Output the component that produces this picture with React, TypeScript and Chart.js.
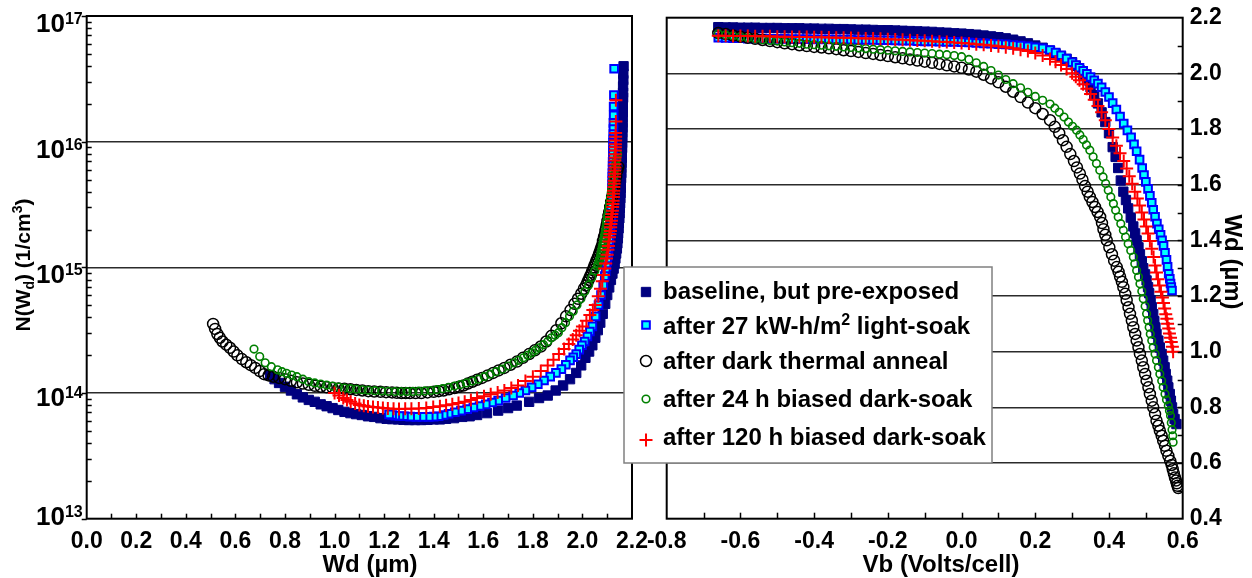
import React, { useEffect, useRef } from 'react';
import { Chart, registerables } from 'chart.js';
import { drawPoint } from 'chart.js/helpers';

Chart.register(...registerables);

const FONT = '"Liberation Sans", Arial, Helvetica, sans-serif';

// ---------- data (Vb in Volts/cell, Wd in µm, log10 of N(Wd) in 1/cm³) ----------
const seriesLabels = [
  'baseline, but pre-exposed',
  'after 27 kW-h/m² light-soak',
  'after dark thermal anneal',
  'after 24 h biased dark-soak',
  'after 120 h biased dark-soak',
];

// reverse-bias part of the voltage sweep, common to all five measurements
const reverseSweepVb = [-0.66, -0.64, -0.62, -0.6, -0.58, -0.56, -0.54, -0.52, -0.5, -0.48, -0.46, -0.44, -0.42, -0.4, -0.38, -0.36, -0.34, -0.32, -0.3, -0.28, -0.26, -0.24, -0.22, -0.2, -0.18, -0.16, -0.14, -0.12, -0.1, -0.08, -0.06, -0.04, -0.02, 0, 0.02, 0.04, 0.06, 0.08, 0.1, 0.12, 0.14, 0.16, 0.18, 0.2, 0.22];

const baselineVb = [...reverseSweepVb, 0.24, 0.255, 0.27, 0.285, 0.3, 0.31, 0.32, 0.33, 0.34, 0.35, 0.36, 0.37, 0.38, 0.39, 0.4, 0.41, 0.418, 0.425, 0.432, 0.439, 0.446, 0.452, 0.459, 0.466, 0.471, 0.475, 0.48, 0.484, 0.489, 0.493, 0.498, 0.502, 0.506, 0.509, 0.513, 0.516, 0.52, 0.523, 0.526, 0.529, 0.534, 0.538, 0.543, 0.547, 0.551, 0.554, 0.558, 0.561, 0.565, 0.568, 0.571, 0.574, 0.578, 0.583];
const baselineWd = [2.166, 2.165, 2.165, 2.164, 2.164, 2.164, 2.163, 2.163, 2.163, 2.162, 2.162, 2.162, 2.161, 2.161, 2.16, 2.16, 2.159, 2.159, 2.158, 2.157, 2.157, 2.156, 2.155, 2.155, 2.154, 2.153, 2.152, 2.151, 2.15, 2.149, 2.147, 2.146, 2.144, 2.143, 2.141, 2.139, 2.136, 2.133, 2.13, 2.126, 2.121, 2.115, 2.108, 2.1, 2.092, 2.082, 2.072, 2.062, 2.052, 2.04, 2.027, 2.012, 1.995, 1.975, 1.95, 1.922, 1.892, 1.86, 1.825, 1.785, 1.735, 1.7, 1.66, 1.615, 1.575, 1.545, 1.515, 1.482, 1.45, 1.425, 1.4, 1.375, 1.35, 1.325, 1.3, 1.278, 1.256, 1.232, 1.21, 1.185, 1.16, 1.135, 1.11, 1.087, 1.064, 1.04, 1.015, 0.992, 0.968, 0.944, 0.92, 0.896, 0.872, 0.848, 0.824, 0.8, 0.776, 0.758, 0.74];
const baselineLogN = [16.6, 16.54, 16.49, 16.44, 16.39, 16.35, 16.31, 16.27, 16.23, 16.19, 16.15, 16.11, 16.07, 16.03, 15.99, 15.95, 15.91, 15.87, 15.83, 15.79, 15.75, 15.71, 15.67, 15.63, 15.59, 15.55, 15.51, 15.47, 15.43, 15.39, 15.35, 15.31, 15.27, 15.23, 15.19, 15.15, 15.11, 15.07, 15.03, 14.99, 14.95, 14.9, 14.84, 14.78, 14.71, 14.63, 14.56, 14.5, 14.44, 14.38, 14.33, 14.28, 14.22, 14.16, 14.11, 14.06, 14.02, 13.98, 13.96, 13.93, 13.9, 13.88, 13.86, 13.84, 13.825, 13.815, 13.81, 13.8, 13.795, 13.79, 13.79, 13.787, 13.785, 13.785, 13.785, 13.787, 13.79, 13.792, 13.795, 13.8, 13.81, 13.815, 13.825, 13.832, 13.84, 13.85, 13.865, 13.88, 13.895, 13.91, 13.93, 13.945, 13.965, 13.99, 14.02, 14.05, 14.08, 14.11, 14.14];

const lightSoakVb = [...reverseSweepVb, 0.24, 0.255, 0.27, 0.285, 0.3, 0.31, 0.32, 0.33, 0.34, 0.35, 0.36, 0.37, 0.38, 0.39, 0.4, 0.41, 0.42, 0.43, 0.44, 0.45, 0.46, 0.468, 0.475, 0.483, 0.49, 0.495, 0.5, 0.506, 0.511, 0.516, 0.52, 0.525, 0.53, 0.535, 0.54, 0.544, 0.548, 0.552, 0.556, 0.559, 0.562, 0.565, 0.567, 0.569, 0.571];
const lightSoakWd = [2.128, 2.127, 2.126, 2.126, 2.125, 2.125, 2.125, 2.124, 2.124, 2.124, 2.123, 2.123, 2.123, 2.122, 2.122, 2.122, 2.121, 2.121, 2.121, 2.12, 2.12, 2.12, 2.119, 2.119, 2.118, 2.117, 2.117, 2.116, 2.115, 2.115, 2.114, 2.113, 2.113, 2.112, 2.111, 2.109, 2.108, 2.107, 2.105, 2.104, 2.102, 2.1, 2.097, 2.094, 2.09, 2.084, 2.075, 2.065, 2.053, 2.04, 2.03, 2.02, 2.009, 1.998, 1.987, 1.975, 1.963, 1.95, 1.933, 1.915, 1.893, 1.87, 1.845, 1.82, 1.795, 1.77, 1.745, 1.72, 1.69, 1.66, 1.635, 1.61, 1.585, 1.56, 1.535, 1.51, 1.485, 1.46, 1.44, 1.42, 1.4, 1.38, 1.355, 1.33, 1.305, 1.28, 1.262, 1.245, 1.232, 1.22];
const lightSoakLogN = [16.58, 16.37, 16.28, 16.21, 16.15, 16.1, 16.06, 16.02, 15.99, 15.96, 15.93, 15.9, 15.87, 15.84, 15.81, 15.78, 15.75, 15.72, 15.69, 15.66, 15.63, 15.6, 15.575, 15.55, 15.525, 15.5, 15.475, 15.45, 15.425, 15.4, 15.375, 15.35, 15.325, 15.3, 15.27, 15.24, 15.21, 15.18, 15.15, 15.12, 15.09, 15.05, 15.01, 14.97, 14.93, 14.86, 14.78, 14.7, 14.61, 14.53, 14.49, 14.45, 14.41, 14.38, 14.345, 14.31, 14.285, 14.26, 14.225, 14.19, 14.16, 14.13, 14.1, 14.07, 14.045, 14.02, 14.0, 13.98, 13.96, 13.94, 13.925, 13.91, 13.897, 13.885, 13.872, 13.86, 13.847, 13.835, 13.825, 13.815, 13.812, 13.81, 13.81, 13.81, 13.812, 13.815, 13.817, 13.82, 13.825, 13.83];

const annealVb = [...reverseSweepVb, 0.24, 0.253, 0.265, 0.275, 0.285, 0.295, 0.305, 0.313, 0.321, 0.328, 0.335, 0.342, 0.348, 0.355, 0.362, 0.369, 0.376, 0.381, 0.385, 0.39, 0.394, 0.401, 0.408, 0.414, 0.421, 0.426, 0.43, 0.435, 0.439, 0.444, 0.448, 0.453, 0.457, 0.462, 0.466, 0.471, 0.475, 0.48, 0.484, 0.489, 0.493, 0.498, 0.502, 0.507, 0.511, 0.516, 0.52, 0.525, 0.529, 0.534, 0.538, 0.543, 0.547, 0.552, 0.556, 0.561, 0.566, 0.57, 0.573, 0.576, 0.579, 0.582, 0.584, 0.586, 0.588];
const annealWd = [2.145, 2.141, 2.136, 2.132, 2.128, 2.124, 2.12, 2.116, 2.112, 2.108, 2.105, 2.101, 2.098, 2.095, 2.093, 2.09, 2.087, 2.083, 2.08, 2.077, 2.073, 2.07, 2.066, 2.062, 2.058, 2.054, 2.05, 2.046, 2.042, 2.038, 2.034, 2.029, 2.025, 2.02, 2.014, 2.006, 1.995, 1.982, 1.968, 1.952, 1.934, 1.915, 1.895, 1.875, 1.854, 1.832, 1.808, 1.785, 1.76, 1.736, 1.71, 1.685, 1.662, 1.64, 1.618, 1.595, 1.575, 1.556, 1.538, 1.52, 1.502, 1.484, 1.462, 1.44, 1.42, 1.4, 1.375, 1.35, 1.327, 1.304, 1.287, 1.27, 1.251, 1.232, 1.208, 1.185, 1.16, 1.136, 1.112, 1.088, 1.064, 1.04, 1.016, 0.992, 0.968, 0.944, 0.92, 0.896, 0.872, 0.848, 0.824, 0.8, 0.776, 0.752, 0.734, 0.716, 0.698, 0.68, 0.662, 0.644, 0.626, 0.608, 0.593, 0.578, 0.563, 0.548, 0.537, 0.527, 0.518, 0.51];
const annealLogN = [15.8, 15.77, 15.72, 15.68, 15.64, 15.6, 15.56, 15.52, 15.48, 15.44, 15.41, 15.37, 15.34, 15.31, 15.29, 15.26, 15.24, 15.21, 15.18, 15.16, 15.14, 15.12, 15.1, 15.08, 15.06, 15.04, 15.02, 15.0, 14.98, 14.96, 14.94, 14.92, 14.9, 14.88, 14.855, 14.83, 14.79, 14.75, 14.71, 14.66, 14.61, 14.555, 14.5, 14.455, 14.41, 14.37, 14.34, 14.31, 14.28, 14.25, 14.225, 14.2, 14.18, 14.16, 14.14, 14.12, 14.105, 14.09, 14.075, 14.06, 14.05, 14.04, 14.03, 14.02, 14.015, 14.01, 14.005, 14.0, 14.0, 14.0, 14.0, 14.0, 14.002, 14.005, 14.007, 14.01, 14.012, 14.015, 14.02, 14.025, 14.03, 14.035, 14.037, 14.04, 14.045, 14.05, 14.057, 14.065, 14.075, 14.085, 14.097, 14.11, 14.12, 14.13, 14.14, 14.15, 14.175, 14.2, 14.222, 14.245, 14.27, 14.3, 14.33, 14.36, 14.385, 14.41, 14.44, 14.47, 14.51, 14.55];

const biased24Vb = [...reverseSweepVb, 0.24, 0.253, 0.265, 0.278, 0.29, 0.301, 0.312, 0.321, 0.33, 0.339, 0.348, 0.357, 0.366, 0.375, 0.384, 0.391, 0.398, 0.405, 0.412, 0.418, 0.425, 0.432, 0.439, 0.445, 0.452, 0.459, 0.466, 0.47, 0.475, 0.48, 0.484, 0.489, 0.493, 0.498, 0.502, 0.505, 0.509, 0.512, 0.516, 0.52, 0.525, 0.529, 0.534, 0.538, 0.543, 0.547, 0.552, 0.556, 0.561, 0.564, 0.567, 0.569, 0.571, 0.573, 0.574];
const biased24Wd = [2.142, 2.138, 2.134, 2.131, 2.128, 2.124, 2.121, 2.118, 2.116, 2.113, 2.11, 2.108, 2.105, 2.103, 2.101, 2.099, 2.097, 2.095, 2.093, 2.091, 2.089, 2.087, 2.085, 2.083, 2.081, 2.079, 2.077, 2.075, 2.073, 2.071, 2.069, 2.067, 2.064, 2.06, 2.05, 2.038, 2.025, 2.01, 1.994, 1.978, 1.963, 1.948, 1.932, 1.917, 1.903, 1.89, 1.875, 1.86, 1.843, 1.825, 1.81, 1.796, 1.779, 1.762, 1.743, 1.724, 1.7, 1.676, 1.652, 1.628, 1.604, 1.58, 1.556, 1.532, 1.508, 1.484, 1.46, 1.436, 1.412, 1.388, 1.364, 1.34, 1.316, 1.292, 1.268, 1.244, 1.217, 1.19, 1.163, 1.136, 1.112, 1.088, 1.064, 1.04, 1.016, 0.992, 0.968, 0.944, 0.92, 0.896, 0.872, 0.848, 0.827, 0.806, 0.788, 0.77, 0.745, 0.72, 0.698, 0.675];
const biased24LogN = [15.9, 15.86, 15.82, 15.78, 15.74, 15.7, 15.66, 15.62, 15.59, 15.55, 15.51, 15.48, 15.45, 15.42, 15.4, 15.37, 15.35, 15.32, 15.29, 15.27, 15.25, 15.23, 15.21, 15.19, 15.17, 15.15, 15.13, 15.11, 15.09, 15.07, 15.06, 15.05, 15.03, 15.01, 14.97, 14.92, 14.86, 14.81, 14.75, 14.7, 14.65, 14.61, 14.56, 14.52, 14.48, 14.46, 14.44, 14.41, 14.385, 14.36, 14.34, 14.32, 14.3, 14.28, 14.26, 14.24, 14.215, 14.19, 14.17, 14.15, 14.13, 14.11, 14.095, 14.08, 14.067, 14.055, 14.045, 14.035, 14.027, 14.02, 14.017, 14.015, 14.013, 14.012, 14.012, 14.012, 14.014, 14.016, 14.019, 14.022, 14.026, 14.03, 14.035, 14.04, 14.047, 14.055, 14.063, 14.072, 14.08, 14.09, 14.11, 14.13, 14.143, 14.157, 14.17, 14.185, 14.21, 14.24, 14.29, 14.35];

const biased120Vb = [...reverseSweepVb, 0.24, 0.255, 0.27, 0.285, 0.3, 0.31, 0.32, 0.33, 0.34, 0.35, 0.36, 0.37, 0.38, 0.39, 0.4, 0.41, 0.42, 0.43, 0.44, 0.448, 0.455, 0.463, 0.47, 0.477, 0.483, 0.489, 0.495, 0.501, 0.506, 0.511, 0.516, 0.521, 0.525, 0.529, 0.533, 0.537, 0.541, 0.545, 0.548, 0.551, 0.554, 0.557, 0.559, 0.562, 0.564, 0.567, 0.569, 0.572, 0.574];
const biased120Wd = [2.135, 2.135, 2.134, 2.134, 2.134, 2.133, 2.133, 2.133, 2.132, 2.132, 2.131, 2.131, 2.131, 2.13, 2.13, 2.129, 2.128, 2.128, 2.127, 2.126, 2.125, 2.125, 2.124, 2.123, 2.122, 2.121, 2.119, 2.118, 2.117, 2.115, 2.114, 2.113, 2.111, 2.109, 2.107, 2.105, 2.103, 2.1, 2.097, 2.094, 2.09, 2.085, 2.08, 2.073, 2.064, 2.052, 2.042, 2.03, 2.016, 2.0, 1.988, 1.975, 1.961, 1.945, 1.926, 1.905, 1.883, 1.86, 1.832, 1.8, 1.77, 1.74, 1.713, 1.685, 1.658, 1.63, 1.603, 1.575, 1.55, 1.525, 1.5, 1.475, 1.45, 1.425, 1.398, 1.37, 1.34, 1.31, 1.285, 1.26, 1.238, 1.215, 1.195, 1.175, 1.155, 1.135, 1.118, 1.1, 1.083, 1.065, 1.05, 1.035, 1.018, 1.0];
const biased120LogN = [16.33, 16.16, 16.07, 16.04, 16.01, 15.98, 15.955, 15.93, 15.9, 15.875, 15.85, 15.82, 15.795, 15.77, 15.745, 15.72, 15.69, 15.665, 15.64, 15.61, 15.585, 15.56, 15.53, 15.505, 15.48, 15.45, 15.425, 15.4, 15.37, 15.345, 15.32, 15.29, 15.265, 15.24, 15.205, 15.17, 15.14, 15.1, 15.07, 15.03, 14.99, 14.94, 14.89, 14.83, 14.77, 14.7, 14.66, 14.62, 14.575, 14.53, 14.495, 14.46, 14.425, 14.39, 14.35, 14.31, 14.265, 14.22, 14.175, 14.13, 14.095, 14.06, 14.04, 14.02, 14.005, 13.99, 13.975, 13.96, 13.945, 13.93, 13.92, 13.91, 13.902, 13.895, 13.888, 13.88, 13.877, 13.875, 13.874, 13.873, 13.875, 13.877, 13.881, 13.885, 13.889, 13.893, 13.899, 13.905, 13.917, 13.93, 13.945, 13.96, 13.98, 14.0];

// axis tick labels
const leftXTicks = [0.0, 0.2, 0.4, 0.6, 0.8, 1.0, 1.2, 1.4, 1.6, 1.8, 2.0, 2.2];
const leftYDecades = [13, 14, 15, 16, 17];
const rightXTicks = [-0.8, -0.6, -0.4, -0.2, 0.0, 0.2, 0.4, 0.6];
const rightYTicks = [0.4, 0.6, 0.8, 1.0, 1.2, 1.4, 1.6, 1.8, 2.0, 2.2];

// ---------- styles ----------
const SERIES = [
  { vb: baselineVb, wd: baselineWd, logN: baselineLogN, pointStyle: 'rect', radius: 6.6, bg: '#00007f', border: '#00007f', bw: 1, order: 5 },
  { vb: lightSoakVb, wd: lightSoakWd, logN: lightSoakLogN, pointStyle: 'rect', radius: 5.4, bg: '#00ffff', border: '#0000ff', bw: 2, order: 4 },
  { vb: annealVb, wd: annealWd, logN: annealLogN, pointStyle: 'circle', radius: 5.5, bg: 'rgba(0,0,0,0)', border: '#000000', bw: 1.5, order: 3 },
  { vb: biased24Vb, wd: biased24Wd, logN: biased24LogN, pointStyle: 'circle', radius: 3.8, bg: 'rgba(0,0,0,0)', border: '#008000', bw: 1.6, order: 2 },
  { vb: biased120Vb, wd: biased120Wd, logN: biased120LogN, pointStyle: 'cross', radius: 6.5, bg: '#ff0000', border: '#ff0000', bw: 2, order: 1 },
];

function makeDatasets(which: 'left' | 'right') {
  return SERIES.map((s, k) => {
    const n = Math.min(s.vb.length, s.wd.length, s.logN.length);
    const data = [] as { x: number; y: number }[];
    for (let i = 0; i < n; i++) {
      data.push(which === 'left' ? { x: s.wd[i], y: Math.pow(10, s.logN[i]) } : { x: s.vb[i], y: s.wd[i] });
    }
    return {
      label: seriesLabels[k],
      data,
      showLine: false,
      pointStyle: s.pointStyle as any,
      pointRadius: s.radius,
      pointHoverRadius: s.radius,
      pointBackgroundColor: s.bg,
      pointBorderColor: s.border,
      pointBorderWidth: s.bw,
      pointHoverBorderWidth: s.bw,
      backgroundColor: s.bg,
      borderColor: s.border,
      order: s.order,
    };
  });
}

type Seg = { t: string; s?: 'sup' | 'sub' };

function segFont(sg: Seg, size: number) {
  return `bold ${sg.s ? Math.round(size * 0.66) : size}px ${FONT}`;
}

function drawSegs(ctx: CanvasRenderingContext2D, segs: Seg[], x: number, y: number, size: number, center: boolean) {
  let w = 0;
  for (const sg of segs) {
    ctx.font = segFont(sg, size);
    w += ctx.measureText(sg.t).width;
  }
  let cx = center ? x - w / 2 : x;
  ctx.textAlign = 'left';
  ctx.textBaseline = 'alphabetic';
  for (const sg of segs) {
    ctx.font = segFont(sg, size);
    const dy = sg.s === 'sup' ? -size * 0.36 : sg.s === 'sub' ? size * 0.2 : 0;
    ctx.fillText(sg.t, cx, y + dy);
    cx += ctx.measureText(sg.t).width;
  }
}

function line(ctx: CanvasRenderingContext2D, x1: number, y1: number, x2: number, y2: number) {
  ctx.beginPath();
  ctx.moveTo(x1, y1);
  ctx.lineTo(x2, y2);
  ctx.stroke();
}

const tickFont = { family: FONT, size: 23, weight: 'bold' as const };

const fmt = (v: number) => (Math.abs(v) < 1e-9 ? '0.0' : v.toFixed(1));

const leftDecor = {
  id: 'leftDecor',
  afterDraw(chart: any) {
    const { ctx, chartArea: a } = chart;
    const x = chart.scales.x;
    const y = chart.scales.y;
    ctx.save();
    ctx.strokeStyle = '#000';
    ctx.fillStyle = '#000';
    ctx.lineWidth = 1.5;
    for (let i = 1; i < 22; i++) {
      const px = Math.round(x.getPixelForValue(i / 10)) + 0.5;
      line(ctx, px, a.bottom, px, a.bottom - 5);
    }
    for (let k = 13; k < 17; k++) {
      for (let m = 2; m <= 9; m++) {
        const py = Math.round(y.getPixelForValue(m * Math.pow(10, k))) + 0.5;
        line(ctx, a.left, py, a.left + 5, py);
      }
    }
    for (const k of leftYDecades) {
      const py = Math.round(y.getPixelForValue(Math.pow(10, k))) + 0.5;
      line(ctx, a.left - 5, py, a.left, py);
    }
    ctx.lineWidth = 2;
    ctx.strokeRect(a.left, a.top, a.right - a.left, a.bottom - a.top);

    // decade labels 10^k
    for (const k of leftYDecades) {
      const py = y.getPixelForValue(Math.pow(10, k));
      const off = k === 13 ? 6 : k === 14 ? 13 : 16;
      ctx.textBaseline = 'alphabetic';
      ctx.textAlign = 'right';
      ctx.font = `bold 16px ${FONT}`;
      const sup = String(k);
      const sw = ctx.measureText(sup).width;
      const supRight = a.left - 4;
      ctx.fillText(sup, supRight, py + off - 8);
      ctx.font = `bold 26px ${FONT}`;
      ctx.fillText('10', supRight - sw, py + off);
    }

    // axis titles
    drawSegs(ctx, [{ t: 'Wd (µm)' }], 370, 572, 24, true);
    ctx.save();
    ctx.translate(30, 265);
    ctx.rotate(-Math.PI / 2);
    drawSegs(ctx, [{ t: 'N(W' }, { t: 'd', s: 'sub' }, { t: ') (1/cm' }, { t: '3', s: 'sup' }, { t: ')' }], 0, 0, 21, true);
    ctx.restore();
    ctx.restore();
  },
};

const RIGHT_OFFSET = 600;

const rightDecor = {
  id: 'rightDecor',
  afterDraw(chart: any) {
    const { ctx, chartArea: a } = chart;
    const x = chart.scales.x;
    const y = chart.scales.y;
    ctx.save();
    ctx.strokeStyle = '#000';
    ctx.fillStyle = '#000';
    ctx.lineWidth = 1.5;
    for (let i = -7; i <= 5; i++) {
      const px = Math.round(x.getPixelForValue(i / 10)) + 0.5;
      line(ctx, px, a.bottom, px, a.bottom - 6);
    }
    for (let i = 5; i <= 21; i++) {
      const py = Math.round(y.getPixelForValue(i / 10)) + 0.5;
      line(ctx, a.right, py, a.right - 5, py);
    }
    ctx.lineWidth = 2;
    ctx.strokeRect(a.left, a.top, a.right - a.left, a.bottom - a.top);

    // titles
    drawSegs(ctx, [{ t: 'Vb (Volts/cell)' }], 941 - RIGHT_OFFSET, 572, 24, true);
    ctx.save();
    ctx.translate(1225 - RIGHT_OFFSET, 262);
    ctx.rotate(Math.PI / 2);
    drawSegs(ctx, [{ t: 'Wd (µm)' }], 0, 0, 24, true);
    ctx.restore();

    // legend box
    const bx = 624 - RIGHT_OFFSET;
    const by = 267;
    const bw = 992 - 624;
    const bh = 463 - 267;
    ctx.fillStyle = '#fff';
    ctx.fillRect(bx, by, bw, bh);
    ctx.strokeStyle = '#808080';
    ctx.lineWidth = 1.5;
    ctx.strokeRect(bx, by, bw, bh);

    const markerY = [292, 325, 361, 399, 440];
    const textY = [299, 334, 369, 407, 445];
    const texts: Seg[][] = [
      [{ t: seriesLabels[0] }],
      [{ t: 'after 27 kW-h/m' }, { t: '2', s: 'sup' }, { t: ' light-soak' }],
      [{ t: seriesLabels[2] }],
      [{ t: seriesLabels[3] }],
      [{ t: seriesLabels[4] }],
    ];
    SERIES.forEach((s, i) => {
      ctx.fillStyle = s.bg;
      ctx.strokeStyle = s.border;
      ctx.lineWidth = s.bw;
      drawPoint(ctx, { pointStyle: s.pointStyle as any, rotation: 0, radius: s.radius, borderWidth: s.bw }, 646 - RIGHT_OFFSET, markerY[i]);
      ctx.fillStyle = '#000';
      drawSegs(ctx, texts[i], 663 - RIGHT_OFFSET, textY[i], 24, false);
    });
    ctx.restore();
  },
};

export default function App() {
  const leftRef = useRef<HTMLCanvasElement>(null);
  const rightRef = useRef<HTMLCanvasElement>(null);

  useEffect(() => {
    const zeroPad = (s: any) => {
      s.paddingLeft = 0;
      s.paddingRight = 0;
      s.paddingTop = 0;
      s.paddingBottom = 0;
    };
    const left = new Chart(leftRef.current as HTMLCanvasElement, {
      type: 'scatter',
      data: { datasets: makeDatasets('left') as any },
      options: {
        responsive: false,
        animation: false,
        devicePixelRatio: 1,
        events: [],
        layout: { padding: { left: 0, right: 28, top: 16, bottom: 0 } },
        plugins: { legend: { display: false }, tooltip: { enabled: false } },
        scales: {
          x: {
            type: 'linear',
            min: 0,
            max: 2.2,
            afterBuildTicks: (s: any) => {
              s.ticks = leftXTicks.map((v) => ({ value: v }));
            },
            ticks: { font: tickFont, color: '#000', padding: 9, callback: (v: any) => fmt(Number(v)), maxRotation: 0, autoSkip: false },
            grid: { display: false, drawTicks: false },
            border: { display: false },
            afterFit: (s: any) => {
              s.height = 59.3;
              zeroPad(s);
            },
          },
          y: {
            type: 'logarithmic',
            min: 1e13,
            max: 1e17,
            ticks: { display: false, autoSkip: false },
            grid: {
              drawTicks: false,
              lineWidth: 1.5,
              color: (c: any) => {
                const v = c.tick ? c.tick.value : 0;
                const l = Math.log10(v);
                return Math.abs(l - Math.round(l)) < 1e-6 && l > 13.5 && l < 16.5 ? '#2b2b2b' : 'rgba(0,0,0,0)';
              },
            },
            border: { display: false },
            afterFit: (s: any) => {
              s.width = 86.7;
              zeroPad(s);
            },
          },
        },
      },
      plugins: [leftDecor],
    } as any);

    const right = new Chart(rightRef.current as HTMLCanvasElement, {
      type: 'scatter',
      data: { datasets: makeDatasets('right') as any },
      options: {
        responsive: false,
        animation: false,
        devicePixelRatio: 1,
        events: [],
        layout: { padding: { left: 66.7, right: 0, top: 17.7, bottom: 0 } },
        plugins: { legend: { display: false }, tooltip: { enabled: false } },
        scales: {
          x: {
            type: 'linear',
            min: -0.8,
            max: 0.6,
            afterBuildTicks: (s: any) => {
              s.ticks = rightXTicks.map((v) => ({ value: v }));
            },
            ticks: { font: tickFont, color: '#000', padding: 9, callback: (v: any) => fmt(Number(v)), maxRotation: 0, autoSkip: false },
            grid: { display: false, drawTicks: false },
            border: { display: false },
            afterFit: (s: any) => {
              s.height = 59.3;
              zeroPad(s);
            },
          },
          y: {
            type: 'linear',
            position: 'right',
            min: 0.4,
            max: 2.2,
            afterBuildTicks: (s: any) => {
              s.ticks = rightYTicks.map((v) => ({ value: v }));
            },
            ticks: { font: tickFont, color: '#000', padding: 7, callback: (v: any) => fmt(Number(v)), autoSkip: false },
            grid: {
              drawTicks: false,
              lineWidth: 1.5,
              color: (c: any) => {
                const v = c.tick ? c.tick.value : 0;
                return v > 0.45 && v < 2.15 ? '#2b2b2b' : 'rgba(0,0,0,0)';
              },
            },
            border: { display: false },
            afterFit: (s: any) => {
              s.width = 69.3;
              zeroPad(s);
            },
          },
        },
      },
      plugins: [rightDecor],
    } as any);

    return () => {
      left.destroy();
      right.destroy();
    };
  }, []);

  return (
    <div style={{ position: 'absolute', left: 0, top: 0, width: 1252, height: 578, background: '#fff', overflow: 'hidden' }}>
      <canvas ref={leftRef} width={660} height={578} style={{ position: 'absolute', left: 0, top: 0, width: 660, height: 578 }} />
      <canvas ref={rightRef} width={652} height={578} style={{ position: 'absolute', left: RIGHT_OFFSET, top: 0, width: 652, height: 578 }} />
    </div>
  );
}
